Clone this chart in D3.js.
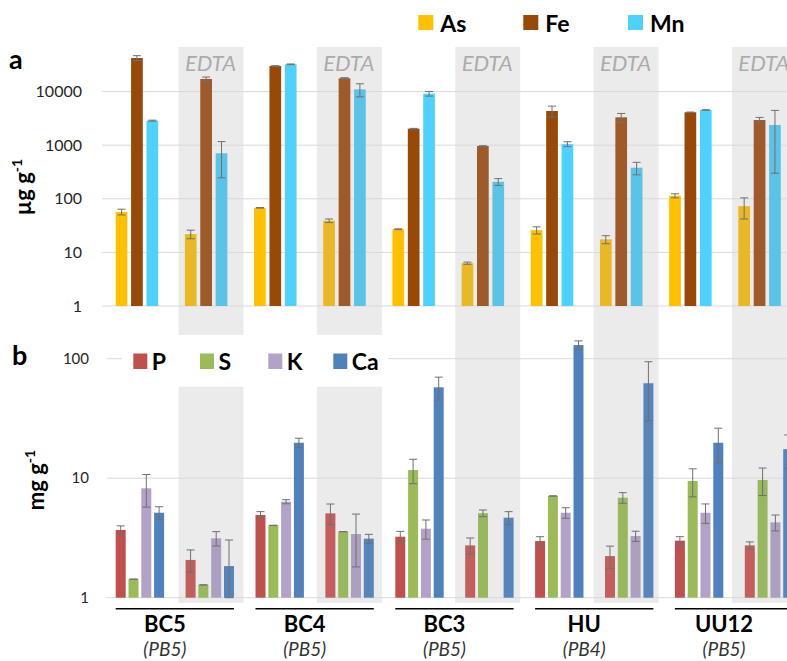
<!DOCTYPE html>
<html><head><meta charset="utf-8">
<script src="https://cdn.jsdelivr.net/npm/d3@7"></script>
<style>body{margin:0;background:#fff}svg{display:block}text{font-family:Lato,"Open Sans",sans-serif}</style>
</head><body><svg id="c" width="787" height="661"></svg>
<script>
const categories = ["BC5","BC5 EDTA","BC4","BC4 EDTA","BC3","BC3 EDTA","HU","HU EDTA","UU12","UU12 EDTA"];
const isEDTA = [false,true,false,true,false,true,false,true,false,true];
const groups = ["BC5","BC4","BC3","HU","UU12"];
const groupSub = ["(PB5)","(PB5)","(PB5)","(PB4)","(PB5)"];

// panel a (µg g-1)
const asVals = [57, 22, 68, 39, 27, 6.3, 26, 17.5, 114, 73];
const asErr  = [7, 4, 1, 3, 0.5, 0.3, 4, 3, 10, 31];
const feVals = [42300, 17200, 30000, 17700, 2030, 966, 4350, 3310, 4110, 2950];
const feErr  = [4500, 1500, 500, 500, 30, 10, 1000, 600, 50, 350];
const mnVals = [2870, 706, 32300, 11000, 9140, 208, 1050, 380, 4540, 2380];
const mnErr  = [60, 460, 500, 3000, 900, 30, 110, 100, 50, 2080];
const aTicks = [1, 10, 100, 1000, 10000];

// panel b (mg g-1)
const pVals  = [3.69, 2.07, 4.92, 5.08, 3.24, 2.74, 2.98, 2.23, 3.0, 2.74];
const pErr   = [0.3, 0.44, 0.33, 1.0, 0.35, 0.42, 0.26, 0.47, 0.24, 0.19];
const sVals  = [1.43, 1.28, 4.03, 3.57, 11.7, 5.09, 7.1, 6.87, 9.48, 9.66];
const sErr   = [0, 0, 0, 0, 2.7, 0.33, 0, 0.7, 2.5, 2.5];
const kVals  = [8.23, 3.14, 6.36, 3.41, 3.78, null, 5.14, 3.28, 5.14, 4.27];
const kErr   = [2.5, 0.43, 0.25, 1.6, 0.69, 0, 0.52, 0.32, 0.95, 0.65];
const caVals = [5.14, 1.84, 19.8, 3.12, 57.6, 4.67, 130, 62.3, 19.8, 17.5];
const caErr  = [0.63, 1.2, 1.8, 0.27, 12.5, 0.58, 11, 32, 6.4, 5.5];
const bTicks = [1, 10, 100];

const seriesA = [
  {name:"As", vals:asVals, err:asErr, col:"#FFC000", colE:"#E9B825"},
  {name:"Fe", vals:feVals, err:feErr, col:"#984807", colE:"#9E5A2A"},
  {name:"Mn", vals:mnVals, err:mnErr, col:"#4DD2FF", colE:"#5BC3E6"}
];
const seriesB = [
  {name:"P",  vals:pVals,  err:pErr,  col:"#C0504D", colE:"#C25F5C"},
  {name:"S",  vals:sVals,  err:sErr,  col:"#9BBB59", colE:"#98B85E"},
  {name:"K",  vals:kVals,  err:kErr,  col:"#B3A2C7", colE:"#AD9FC0"},
  {name:"Ca", vals:caVals, err:caErr, col:"#4F81BD", colE:"#5585BB"}
];

const svg = d3.select("#c");
const W = 787;

// scales
const xa = d3.scaleBand().domain(categories).range([103, 103 + 10*69.18]);
const xaSub = d3.scaleBand().domain(seriesA.map(d=>d.name)).range([12.7, 55.2]).paddingInner(0.24);
const ya = d3.scaleLog().domain([1, 100000]).range([306, 38]);

const xb = d3.scaleBand().domain(categories).range([103, 103 + 10*69.9]);
const xbSub = d3.scaleBand().domain(seriesB.map(d=>d.name)).range([12.7, 61.1]).paddingInner(0.22);
const yb = d3.scaleLog().domain([1, 100]).range([597.7, 358.7]);

// grey EDTA bands
categories.forEach((c,i)=>{
  if(!isEDTA[i]) return;
  svg.append("rect").attr("x", xa(c)+6.3).attr("y", 47).attr("width", 65).attr("height", 288).attr("fill","#EBEBEB");
  const top = i < 4 ? 386.7 : 335;
  svg.append("rect").attr("x", xa(c)+6.3).attr("y", top).attr("width", 65).attr("height", 603-top).attr("fill","#EBEBEB");
  svg.append("text").attr("x", xa(c)+6.3+32).attr("y", 71).attr("text-anchor","middle")
    .attr("font-size", 22).attr("font-style","italic").attr("fill","#ABABAB").text("EDTA");
});

// gridlines a
svg.append("g").selectAll("line").data(aTicks).join("line")
  .attr("x1",102).attr("x2",W).attr("y1",d=>ya(d)).attr("y2",d=>ya(d))
  .attr("stroke","#D9D9D9").attr("stroke-width",1);
svg.append("g").selectAll("text").data(aTicks).join("text")
  .attr("x",82).attr("y",d=>ya(d)+5.5).attr("text-anchor","end").attr("font-size",16).attr("fill","#262626")
  .text(d=>d);

// gridlines b
svg.append("g").selectAll("line").data(bTicks).join("line")
  .attr("x1",107).attr("x2",W).attr("y1",d=>yb(d)).attr("y2",d=>yb(d))
  .attr("stroke","#D9D9D9").attr("stroke-width",1);
svg.append("g").selectAll("text").data(bTicks).join("text")
  .attr("x",89).attr("y",d=>yb(d)+5).attr("text-anchor","end").attr("font-size",15).attr("fill","#262626")
  .text(d=>d);

function drawErr(g, x, yScale, v, e, base){
  if(v==null) return;
  const hi = v+e, lo = Math.max(v-e, base);
  g.append("line").attr("x1",x).attr("x2",x).attr("y1",yScale(hi)).attr("y2",yScale(lo)).attr("stroke","#707070").attr("stroke-width",1);
  [hi, lo].forEach(t=>{
    g.append("line").attr("x1",x-4).attr("x2",x+4).attr("y1",yScale(t)).attr("y2",yScale(t)).attr("stroke","#707070").attr("stroke-width",1);
  });
}

// bars a
const ga = svg.append("g");
seriesA.forEach(s=>{
  categories.forEach((c,i)=>{
    const v = s.vals[i]; if(v==null) return;
    const x = xa(c)+xaSub(s.name);
    ga.append("rect").attr("x",x).attr("y",ya(v)).attr("width",xaSub.bandwidth()).attr("height",ya(1)-ya(v))
      .attr("fill", isEDTA[i]? s.colE : s.col);
  });
});
seriesA.forEach(s=>{
  categories.forEach((c,i)=>{
    drawErr(ga, xa(c)+xaSub(s.name)+xaSub.bandwidth()/2, ya, s.vals[i], s.err[i], 1);
  });
});

// bars b
const gb = svg.append("g");
seriesB.forEach(s=>{
  categories.forEach((c,i)=>{
    const v = s.vals[i]; if(v==null) return;
    const x = xb(c)+xbSub(s.name);
    gb.append("rect").attr("x",x).attr("y",yb(v)).attr("width",xbSub.bandwidth()).attr("height",yb(1)-yb(v))
      .attr("fill", isEDTA[i]? s.colE : s.col);
  });
});
seriesB.forEach(s=>{
  categories.forEach((c,i)=>{
    drawErr(gb, xb(c)+xbSub(s.name)+xbSub.bandwidth()/2, yb, s.vals[i], s.err[i], 1);
  });
});

// legend a
const legA = [418.3, 523.3, 628];
seriesA.forEach((s,i)=>{
  svg.append("rect").attr("x",legA[i]).attr("y",15).attr("width",15).attr("height",15).attr("fill",s.col);
  svg.append("text").attr("x",legA[i]+22).attr("y",31.5).attr("font-size",23).attr("font-weight","bold").attr("fill","#000").text(s.name);
});

// legend b
svg.append("rect").attr("x",122).attr("y",344).attr("width",266).attr("height",32).attr("fill","#fff");
const legB = [133.3, 200, 268.3, 333.3];
seriesB.forEach((s,i)=>{
  svg.append("rect").attr("x",legB[i]).attr("y",353.5).attr("width",14).attr("height",15.5).attr("fill",s.col);
  svg.append("text").attr("x",legB[i]+18.5).attr("y",369.5).attr("font-size",23).attr("font-weight","bold").attr("fill","#000").text(s.name);
});

// panel letters
svg.append("text").attr("x",9).attr("y",69).attr("font-size",27).attr("font-weight","bold").text("a");
svg.append("text").attr("x",12).attr("y",365).attr("font-size",27).attr("font-weight","bold").text("b");

// axis titles
const ta = svg.append("text").attr("transform","translate(31,187) rotate(-90)").attr("text-anchor","middle")
  .attr("font-size",22).attr("font-weight","bold");
ta.append("tspan").text("µg g");
ta.append("tspan").attr("dy",-9).attr("font-size",14).text("-1");
const tb = svg.append("text").attr("transform","translate(44,480) rotate(-90)").attr("text-anchor","middle")
  .attr("font-size",22).attr("font-weight","bold");
tb.append("tspan").text("mg g");
tb.append("tspan").attr("dy",-9).attr("font-size",14).text("-1");

// group underlines and labels
groups.forEach((g,k)=>{
  const c0 = categories[2*k], c1 = categories[2*k+1];
  const x0 = xb(c0)+xbSub("P"), x1 = xb(c1)+xbSub("Ca")+xbSub.bandwidth();
  svg.append("line").attr("x1",x0).attr("x2",x1).attr("y1",608.8).attr("y2",608.8).attr("stroke","#000").attr("stroke-width",1.5);
  const cx = (x0+x1)/2 - 10;
  svg.append("text").attr("x",cx).attr("y",632).attr("text-anchor","middle").attr("font-size",22).attr("font-weight","bold").text(g);
  svg.append("text").attr("x",cx).attr("y",656).attr("text-anchor","middle").attr("font-size",19).attr("font-style","italic").attr("fill","#333").text(groupSub[k]);
});
</script></body></html>
